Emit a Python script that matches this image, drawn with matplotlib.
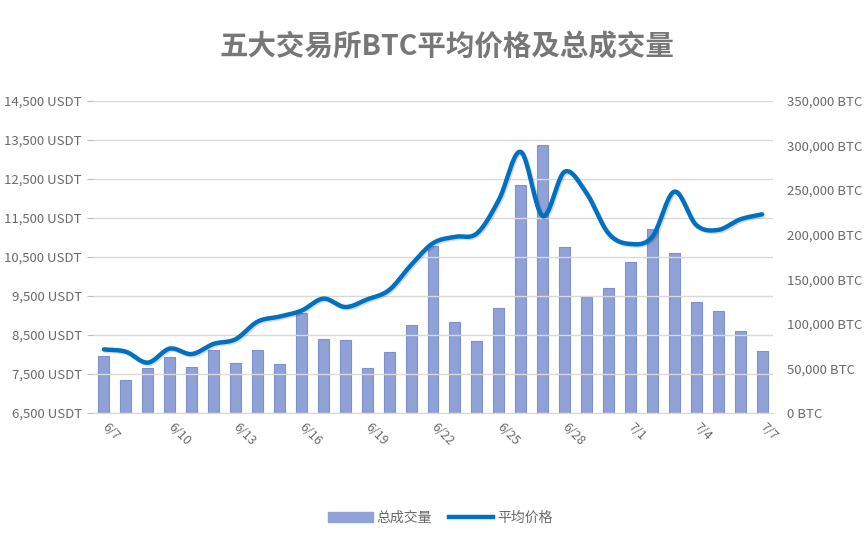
import matplotlib
matplotlib.use('Agg')
import matplotlib.pyplot as plt
import matplotlib.patheffects as pe
from matplotlib.ticker import FuncFormatter, FixedLocator
import numpy as np

plt.rcParams['font.family'] = ['Noto Sans CJK SC', 'DejaVu Sans']

# 日付
dates = ['6/7', '6/8', '6/9', '6/10', '6/11', '6/12', '6/13', '6/14', '6/15', '6/16',
         '6/17', '6/18', '6/19', '6/20', '6/21', '6/22', '6/23', '6/24', '6/25', '6/26',
         '6/27', '6/28', '6/29', '6/30', '7/1', '7/2', '7/3', '7/4', '7/5', '7/6', '7/7']
# 総成交量 (BTC)
volume = [63900, 37000, 50400, 62800, 51500, 70600, 56000, 70600, 54900, 112400,
          82900, 81800, 50400, 68400, 98600, 187500, 102000, 80700, 117700, 255500,
          300300, 186000, 130000, 140000, 169000, 206000, 179000, 124000, 114000, 92000,
          69500]
# 平均価格 (USDT)
price = [8130, 8070, 7790, 8150, 8010, 8270, 8390, 8840, 8970, 9120,
         9430, 9215, 9410, 9650, 10290, 10850, 11015, 11100, 11955, 13190,
         11545, 12680, 12130, 11100, 10830, 11015, 12170, 11315, 11190, 11460,
         11590]
price_ticks = np.arange(6500, 14501, 1000)
volume_ticks = np.arange(0, 350001, 50000)

grey = '#6A6A6A'
x = np.arange(len(dates))


def smooth(xs, ys, n=20):
    # Catmull-Rom で線を滑らかに描く
    xs = np.asarray(xs, float)
    ys = np.asarray(ys, float)
    px = np.concatenate([[2 * xs[0] - xs[1]], xs, [2 * xs[-1] - xs[-2]]])
    py = np.concatenate([[2 * ys[0] - ys[1]], ys, [2 * ys[-1] - ys[-2]]])
    ox, oy = [], []
    t = np.linspace(0, 1, n, endpoint=False)
    for i in range(1, len(px) - 2):
        for p, o in ((px, ox), (py, oy)):
            p0, p1, p2, p3 = p[i - 1], p[i], p[i + 1], p[i + 2]
            o.extend(0.5 * ((2 * p1) + (-p0 + p2) * t
                            + (2 * p0 - 5 * p1 + 4 * p2 - p3) * t ** 2
                            + (-p0 + 3 * p1 - 3 * p2 + p3) * t ** 3))
    ox.append(xs[-1])
    oy.append(ys[-1])
    return np.array(ox), np.array(oy)


fig = plt.figure(figsize=(8.64, 5.45), dpi=100)
ax = fig.add_axes([0.1076, 0.2422, 0.7871, 0.5730])
ax2 = ax.twinx()

# 棒グラフ (右軸)
ax2.bar(x, volume, width=0.5, color='#8FA1D6', edgecolor='#7D92CC', linewidth=0.8,
        zorder=2)
ax2.set_ylim(volume_ticks[0], volume_ticks[-1])
ax2.yaxis.set_major_locator(FixedLocator(volume_ticks))
ax2.yaxis.set_major_formatter(FuncFormatter(lambda v, p: '{:,.0f} BTC'.format(v)))

# 折れ線 (左軸)
sx, sy = smooth(x, price)
ax.plot(sx, sy, color='#0070C0', linewidth=3.2, solid_capstyle='round', zorder=3,
        path_effects=[pe.SimpleLineShadow(offset=(1, -1), shadow_color='k', alpha=0.15),
                      pe.Normal()])
ax.set_ylim(price_ticks[0], price_ticks[-1])
ax.yaxis.set_major_locator(FixedLocator(price_ticks))
ax.yaxis.set_major_formatter(FuncFormatter(lambda v, p: '{:,.0f} USDT'.format(v)))
ax.grid(axis='y', color='#D9D9D9', linewidth=1)
ax.set_axisbelow(True)

ax.set_zorder(ax2.get_zorder() + 1)
ax.patch.set_visible(False)
ax2.grid(False)

ax.set_xlim(-0.5, len(dates) - 0.5)
ax.set_xticks(x[::3])
ax.set_xticklabels(dates[::3], rotation=-45, ha='left', va='center',
                   rotation_mode='anchor', fontsize=9, color=grey)
ax.tick_params(axis='x', length=0, pad=9)
ax.tick_params(axis='y', length=4, color='#BFBFBF', labelsize=9.5, labelcolor=grey, pad=4)
ax2.tick_params(axis='y', length=0, labelsize=9.5, labelcolor=grey, pad=10)
for a in (ax, ax2):
    for s in a.spines.values():
        s.set_visible(False)
ax.spines['bottom'].set_visible(True)
ax.spines['bottom'].set_color('#D9D9D9')

fig.text(0.517, 0.913, '五大交易所BTC平均价格及总成交量', ha='center', va='center',
         fontsize=20.5, color='#777777', fontweight='bold')

h1 = plt.Rectangle((0, 0), 1, 1, color='#8FA1D6')
h2 = plt.Line2D([0], [0], color='#0070C0', linewidth=3.2)
fig.legend([h1, h2], ['总成交量', '平均价格'], loc='center', bbox_to_anchor=(0.51, 0.05),
           ncol=2, frameon=False, fontsize=10, labelcolor=grey, handlelength=3.2,
           handletextpad=0.3, columnspacing=1.2)

fig.savefig('out.png', dpi=100)
